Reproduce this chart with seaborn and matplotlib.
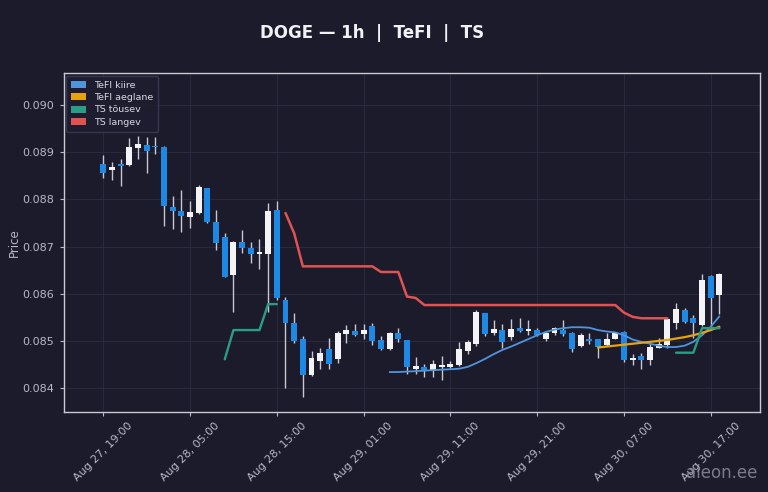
import numpy as np
import pandas as pd
import matplotlib
matplotlib.use("Agg")
import matplotlib.pyplot as plt
import matplotlib.dates as mdates
from matplotlib.patches import Patch
import seaborn as sns

# ---------------- data ----------------
start_time = "2025-08-27 19:00"
n_candles = 72

opens = [0.08875, 0.08863, 0.08874, 0.08872, 0.08909, 0.08915, 0.08913, 0.08911, 0.08784, 0.08776,
         0.08763, 0.08770, 0.08823, 0.08753, 0.08720, 0.08640, 0.08710, 0.08696, 0.08685, 0.08685,
         0.08778, 0.08586, 0.08539, 0.08504, 0.08427, 0.08458, 0.08482, 0.08461, 0.08515, 0.08520,
         0.08515, 0.08531, 0.08501, 0.08482, 0.08517, 0.08501, 0.08441, 0.08445, 0.08437, 0.08444,
         0.08445, 0.08448, 0.08478, 0.08494, 0.08559, 0.08517, 0.08524, 0.08508, 0.08528, 0.08521,
         0.08524, 0.08503, 0.08516, 0.08524, 0.08516, 0.08489, 0.08504, 0.08503, 0.08491, 0.08505,
         0.08519, 0.08459, 0.08467, 0.08459, 0.08486, 0.08491, 0.08537, 0.08566, 0.08549, 0.08533,
         0.08637, 0.08597]
highs = [0.08894, 0.08880, 0.08886, 0.08930, 0.08935, 0.08931, 0.08931, 0.08912, 0.08808, 0.08820,
         0.08797, 0.08831, 0.08824, 0.08778, 0.08729, 0.08712, 0.08734, 0.08710, 0.08715, 0.08792,
         0.08797, 0.08593, 0.08559, 0.08510, 0.08478, 0.08484, 0.08506, 0.08521, 0.08533, 0.08535,
         0.08535, 0.08537, 0.08511, 0.08519, 0.08528, 0.08502, 0.08465, 0.08451, 0.08459, 0.08468,
         0.08457, 0.08498, 0.08501, 0.08566, 0.08560, 0.08545, 0.08535, 0.08547, 0.08549, 0.08545,
         0.08527, 0.08519, 0.08530, 0.08545, 0.08519, 0.08517, 0.08517, 0.08504, 0.08516, 0.08519,
         0.08520, 0.08472, 0.08474, 0.08494, 0.08507, 0.08549, 0.08580, 0.08570, 0.08554, 0.08642,
         0.08639, 0.08644]
lows = [0.08846, 0.08840, 0.08829, 0.08870, 0.08886, 0.08855, 0.08897, 0.08744, 0.08738, 0.08730,
        0.08740, 0.08769, 0.08750, 0.08692, 0.08635, 0.08561, 0.08686, 0.08665, 0.08653, 0.08561,
        0.08587, 0.08400, 0.08496, 0.08382, 0.08426, 0.08440, 0.08440, 0.08453, 0.08496, 0.08510,
        0.08503, 0.08491, 0.08480, 0.08480, 0.08498, 0.08430, 0.08430, 0.08423, 0.08423, 0.08418,
        0.08442, 0.08447, 0.08473, 0.08489, 0.08510, 0.08512, 0.08484, 0.08501, 0.08519, 0.08512,
        0.08511, 0.08500, 0.08512, 0.08510, 0.08477, 0.08488, 0.08493, 0.08463, 0.08490, 0.08504,
        0.08456, 0.08449, 0.08440, 0.08449, 0.08484, 0.08486, 0.08526, 0.08538, 0.08507, 0.08532,
        0.08523, 0.08558]
closes = [0.08856, 0.08868, 0.08871, 0.08910, 0.08918, 0.08903, 0.08910, 0.08786, 0.08775, 0.08764,
          0.08773, 0.08827, 0.08751, 0.08708, 0.08636, 0.08709, 0.08697, 0.08685, 0.08689, 0.08775,
          0.08590, 0.08537, 0.08499, 0.08427, 0.08463, 0.08475, 0.08451, 0.08516, 0.08523, 0.08512,
          0.08523, 0.08500, 0.08482, 0.08517, 0.08503, 0.08445, 0.08446, 0.08437, 0.08452, 0.08449,
          0.08451, 0.08482, 0.08498, 0.08561, 0.08515, 0.08526, 0.08498, 0.08526, 0.08521, 0.08525,
          0.08513, 0.08516, 0.08528, 0.08514, 0.08482, 0.08513, 0.08500, 0.08487, 0.08505, 0.08516,
          0.08460, 0.08463, 0.08459, 0.08487, 0.08494, 0.08547, 0.08568, 0.08540, 0.08537, 0.08630,
          0.08590, 0.08642]

N = None
tefi_fast = [N] * 33 + [0.08434, 0.08434, 0.08435, 0.08436, 0.08437, 0.08438, 0.08439, 0.08440,
                        0.08441, 0.08445, 0.08453, 0.08462, 0.08472, 0.08481, 0.08488, 0.08496,
                        0.08504, 0.08512, 0.08519, 0.08524, 0.08527, 0.08529, 0.08529, 0.08528,
                        0.08523, 0.08520, 0.08518, 0.08512, 0.08503, 0.08498, 0.08494, 0.08490,
                        0.08487, 0.08487, 0.08490, 0.08498, 0.08512, 0.08530, 0.08552]
tefi_slow = [N] * 57 + [0.08486, 0.08488, 0.08490, 0.08492, 0.08494, 0.08496, 0.08498, 0.08500,
                        0.08502, 0.08505, 0.08508, 0.08512, 0.08517, 0.08523, 0.08530]
ts_up = ([N] * 14 + [0.08461, 0.08523, 0.08523, 0.08523, 0.08523, 0.08578, 0.08578]
         + [N] * 45 + [0.08475, 0.08475, 0.08475, 0.08527, 0.08527, 0.08527])
ts_down = ([N] * 21 + [0.08771, 0.08728] + [0.08658] * 9 + [0.08646] * 3 + [0.08594, 0.08591]
           + [0.08576] * 23 + [0.08560, 0.08551, 0.08548, 0.08548, 0.08548, 0.08548] + [N] * 6)

series_names = ["TeFI kiire", "TeFI aeglane", "TS tõusev", "TS langev"]
series_colors = ["#4f94dc", "#e8a20c", "#2a9d84", "#e05353"]

# ---------------- styling ----------------
BG = "#1b1b2c"
sns.set_theme(style="darkgrid")
plt.rcParams.update({
    "figure.facecolor": BG,
    "axes.facecolor": BG,
    "axes.edgecolor": "#c9c9d4",
    "axes.linewidth": 1.0,
    "grid.color": "#2b2b42",
    "grid.linewidth": 0.6,
    "text.color": "#e6e6ee",
    "axes.labelcolor": "#b8b8c6",
    "xtick.color": "#b8b8c6",
    "ytick.color": "#b8b8c6",
    "xtick.bottom": True,
    "ytick.left": True,
})
plt.rcParams["font.family"] = ["DejaVu Sans"]

times = pd.date_range(start_time, periods=n_candles, freq="h")
df = pd.DataFrame({"time": times, "open": opens, "high": highs, "low": lows, "close": closes})

fig = plt.figure(figsize=(7.68, 4.92), dpi=100)
ax = fig.add_axes([0.0827, 0.1632, 0.9069, 0.6878])

# candles
up = df["close"] >= df["open"]
body_colors = np.where(up, "#f4f4f6", "#1e88e5")
body_bottom = df[["open", "close"]].min(axis=1)
body_height = (df["close"] - df["open"]).abs().clip(lower=0.000035)
ax.vlines(df["time"], df["low"], df["high"], color="#c8c8d2", linewidth=1.0, zorder=2)
ax.bar(df["time"], body_height, bottom=body_bottom, width=0.68 / 24,
       color=body_colors, linewidth=0, zorder=3)

# indicator lines
for name, vals, col, lw in zip(series_names, [tefi_fast, tefi_slow, ts_up, ts_down],
                               series_colors, [1.3, 1.6, 1.7, 1.8]):
    s = pd.Series(vals, dtype="float64")
    seg = s.isna().cumsum()
    ldf = pd.DataFrame({"time": times, "val": s, "seg": seg}).dropna()
    sns.lineplot(data=ldf, x="time", y="val", units="seg", estimator=None,
                 color=col, linewidth=lw, ax=ax, zorder=4, legend=False)

# axes limits & ticks
step = pd.Timedelta(hours=1)
ax.set_xlim(times[0] - 4.58 * step, times[-1] + 4.68 * step)
ax.set_ylim(0.08350, 0.09067)
ax.set_yticks(np.arange(0.084, 0.0905, 0.001))
ax.yaxis.set_major_formatter(matplotlib.ticker.FormatStrFormatter("%.3f"))
ax.set_xticks(times[::10])
ax.xaxis.set_major_formatter(mdates.DateFormatter("%b %d, %H:%M"))
ax.tick_params(axis="both", labelsize=8, length=3, width=0.8, colors="#b8b8c6")
plt.setp(ax.get_xticklabels(), rotation=45, ha="center")
ax.set_xlabel("")
ax.set_ylabel("Price", fontsize=8.5, labelpad=1.5)
for sp in ax.spines.values():
    sp.set_visible(True)
    sp.set_color("#c9c9d4")

handles = [Patch(facecolor=c, edgecolor="none", label=n) for n, c in zip(series_names, series_colors)]
leg = ax.legend(handles=handles, loc="upper left", fontsize=6.8, frameon=True,
                facecolor="#1e1e30", edgecolor="#3a3a52", framealpha=0.9,
                handlelength=1.6, handleheight=0.8, borderpad=0.5, labelspacing=0.35,
                bbox_to_anchor=(0.0, 1.0), borderaxespad=0.3)
for t in leg.get_texts():
    t.set_color("#d8d8e2")

fig.text(0.485, 0.933, "DOGE — 1h  |  TeFI  |  TS", ha="center", va="center",
         fontsize=12, fontweight="bold", color="#f2f2f6")
fig.text(0.986, 0.038, "aieon.ee", ha="right", va="center", fontsize=12,
         color="#8c8c9c", alpha=0.85)

fig.savefig("out.png", dpi=100, facecolor=BG)
